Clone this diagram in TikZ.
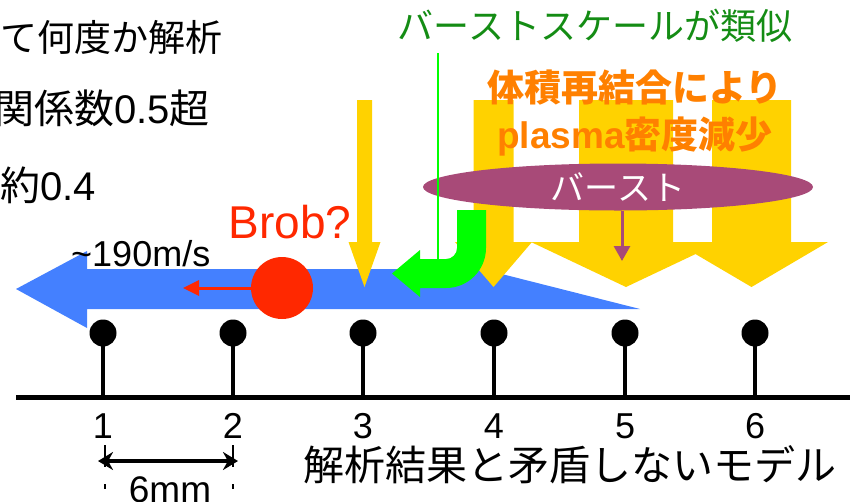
\documentclass[tikz,border=0pt]{standalone}
\usepackage{fontspec}
\setmainfont{Liberation Sans}
\newfontfamily\jp{Noto Sans CJK JP}
\usetikzlibrary{arrows.meta,shapes.geometric}
\definecolor{bl}{RGB}{68,128,255}
\definecolor{yl}{RGB}{255,210,0}
\definecolor{rd}{RGB}{255,40,0}
\definecolor{gr}{RGB}{0,255,0}
\definecolor{dg}{RGB}{20,140,20}
\definecolor{pu}{RGB}{168,74,120}
\definecolor{og}{RGB}{255,128,0}
\newcommand\yarr[3]{\fill[yl] ({#1-#2},100) -- ({#1+#2},100) -- ({#1+#2},242) -- ({#1+#3},242) -- (#1,287) -- ({#1-#3},242) -- ({#1-#2},242) -- cycle;}
\begin{document}
\begin{tikzpicture}[x=1pt,y=-1pt,
  txt/.style={inner sep=0pt,font=\fontsize{36}{40}\selectfont},
  dot/.style={circle,fill=black,inner sep=0pt,minimum size=27pt},
  num/.style={inner sep=0pt,font=\fontsize{36}{40}\selectfont},
  dimline/.style={line width=2pt,dash pattern=on 22pt off 17pt on 5pt off 17pt},
  otxt/.style={inner sep=0pt,text=og,font=\fontsize{37}{40}\selectfont\bfseries}]
\useasboundingbox (0,0) rectangle (850,501);
\clip (0,0) rectangle (850,501);
% blue arrow
\fill[bl] (16,289) -- (87,251) -- (87,269) -- (482,269) -- (640,309) -- (87,309) -- (87,328) -- cycle;
% yellow arrows
\yarr{364.5}{7.5}{16}
\yarr{626}{47}{95}
\yarr{751.5}{39.5}{76.5}
\yarr{493.5}{20}{38.5}
% burst ellipse
\node[ellipse,fill=pu,minimum width=390pt,minimum height=47pt,inner sep=0pt,text=white,font=\fontsize{34}{38}\selectfont] (burst) at (618,187) {\jp バースト};
\coordinate (ptip) at (622,261);
\draw[pu,line width=3pt,-{Triangle[length=15pt,width=16pt]}] (burst.south -| ptip) -- (ptip);
% orange text
\node[otxt] (o1) at (635,88) {\jp 体積再結合により};
\node[otxt] (o2) at (635,136) {plasma{\jp 密度減少}};
% green text and line
\node[txt,text=dg] (g) at (595,26) {\jp バーストスケールが類似};
\coordinate (gtop) at (438,53);
\coordinate (gbot) at (438,260);
% green thick arrow
\fill[gr] (486,210) -- (486,248) arc[start angle=0,end angle=90,radius=40] -- (420,288) -- (420,297) -- (392,273.5) -- (420,250) -- (420,259) -- (446,259) arc[start angle=90,end angle=0,radius=11] -- (457,210) -- cycle;
\draw[gr,line width=2pt] (gtop) -- (gbot);
% red
\node[txt,text=rd,font=\fontsize{46}{50}\selectfont] (brob) at (290,222) {Brob?};
\node[circle,fill=rd,minimum size=62pt,inner sep=0pt] (rob) at (282,288) {};
\coordinate (rtip) at (183,288);
\draw[rd,line width=3pt,-{Triangle[length=16pt,width=15pt]}] (rob.west) -- (rtip);
\node[txt,anchor=west] (v) at (71,254) {\~{}190m/s};
% top-left texts
\node[txt,anchor=west,font=\fontsize{37}{40}\selectfont] (t1) at (0,37) {\jp て何度か解析};
\node[txt,anchor=west,font=\fontsize{40}{44}\selectfont] (t2) at (-6,108) {{\jp 関係数}0.5{\jp 超}};
\node[txt,anchor=west,font=\fontsize{40}{44}\selectfont] (t3) at (0,185) {{\jp 約}0.4};
% stems
\foreach \i/\x in {1/103,2/233,3/363,4/494,5/625,6/755}{
  \node[dot] (p\i) at (\x,333) {};
  \coordinate (b\i) at (\x,397);
  \draw[line width=4pt] (p\i.center) -- (b\i);
  \node[num] (n\i) at (\x,426) {\i};
}
\coordinate (L) at (16,397);
\coordinate (R) at (850,397);
\draw[line width=5pt] (L) -- (R);
% dimension
\coordinate (d1t) at (105,445); \coordinate (d1b) at (105,501);
\coordinate (d2t) at (233,445); \coordinate (d2b) at (233,501);
\draw[dimline] (d1t) -- (d1b);
\draw[dimline] (d2t) -- (d2b);
\coordinate (d1) at (98,461); \coordinate (d2) at (238,461);
\draw[line width=3.5pt,{Stealth[length=15pt,width=18pt]}-{Stealth[length=15pt,width=18pt]}] (d1) -- (d2);
\node[txt,anchor=base,font=\fontsize{37}{40}\selectfont] (mm) at (170,502) {6mm};
\node[txt,font=\fontsize{41}{44}\selectfont] (res) at (570,465) {\jp 解析結果と矛盾しないモデル};
\end{tikzpicture}
\end{document}
